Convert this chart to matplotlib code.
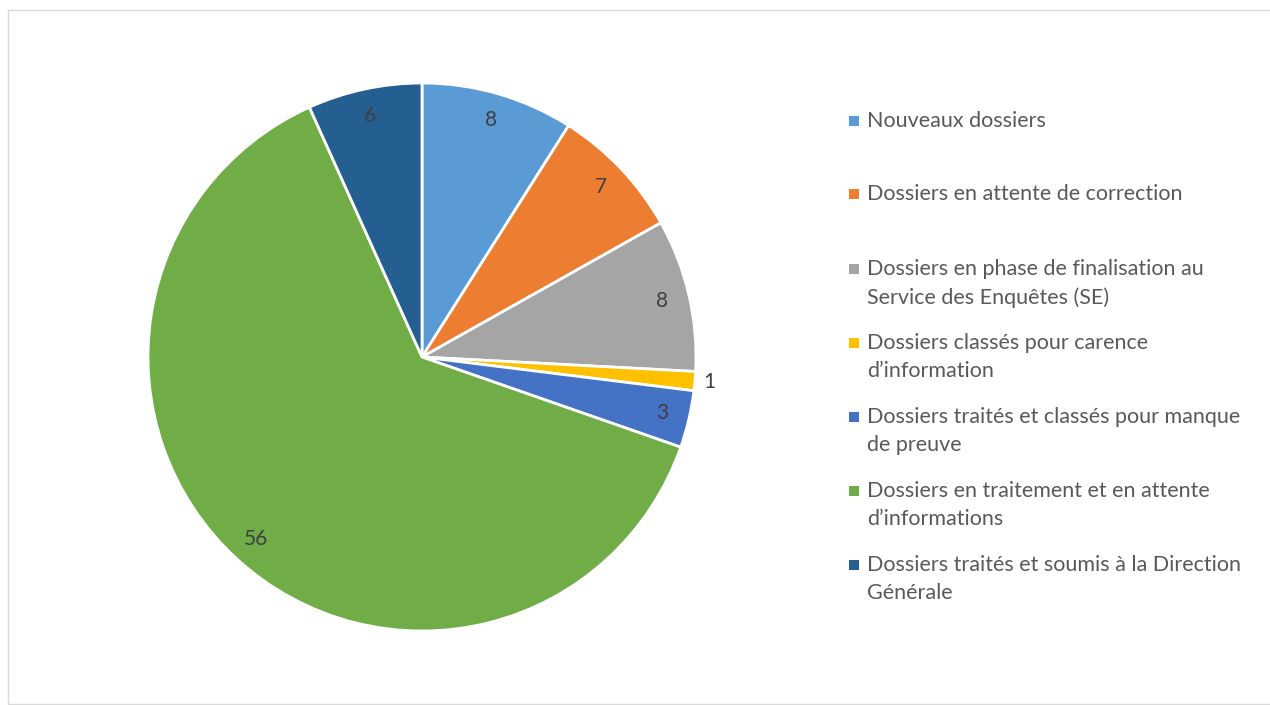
import matplotlib.pyplot as plt
from matplotlib.patches import Rectangle

plt.rcParams['font.family'] = ['Lato', 'DejaVu Sans']

labels = [
    "Nouveaux dossiers",
    "Dossiers en attente de correction",
    "Dossiers en phase de finalisation au\nService des Enquêtes (SE)",
    "Dossiers classés pour carence\nd’information",
    "Dossiers traités et classés pour manque\nde preuve",
    "Dossiers en traitement et en attente\nd’informations",
    "Dossiers traités et soumis à la Direction\nGénérale",
]
values = [8, 7, 8, 1, 3, 56, 6]
colors = ["#5B9BD5", "#ED7D31", "#A5A5A5", "#FFC000", "#4472C4", "#70AD47", "#255E91"]

text_color = "#595959"
W, H = 1270, 705
fig = plt.figure(figsize=(W / 100, H / 100), dpi=100)

# chart border
fig.patches.append(Rectangle((8 / W, 0.002), 1.2, 1 - 10 / H - 0.002, transform=fig.transFigure,
                             fill=False, edgecolor="#D9D9D9", linewidth=1))

cx, cy, r = 422, 357, 274
ax = fig.add_axes([(cx - r) / W, (H - cy - r) / H, 2 * r / W, 2 * r / H])
total = sum(values)
wedges, texts, autotexts = ax.pie(
    values, colors=colors, startangle=90, counterclock=False,
    autopct=lambda p: f"{round(p * total / 100)}", pctdistance=0.9,
    wedgeprops=dict(edgecolor="white", linewidth=2),
    textprops=dict(fontsize=15, color="#404040"),
)
# small slice label goes outside
for t, v in zip(autotexts, values):
    if v / total < 0.03:
        x, y = t.get_position()
        t.set_position((x * 1.17, y * 1.17))
ax.set_xlim(-1, 1)
ax.set_ylim(-1, 1)

# legend drawn manually so markers line up with the first line of text
step = 74
for i, (lab, c) in enumerate(zip(labels, colors)):
    yc = 121 + i * 73 if i < 2 else 269 + (i - 2) * step
    fig.patches.append(Rectangle((849 / W, 1 - (yc + 5) / H), 10 / W, 10 / H,
                                 transform=fig.transFigure, facecolor=c, edgecolor="none"))
    fig.text(867 / W, 1 - (yc - 10) / H, lab, fontsize=15.5, color=text_color,
             va="top", ha="left", linespacing=1.5)

fig.savefig("out.png", dpi=100)
